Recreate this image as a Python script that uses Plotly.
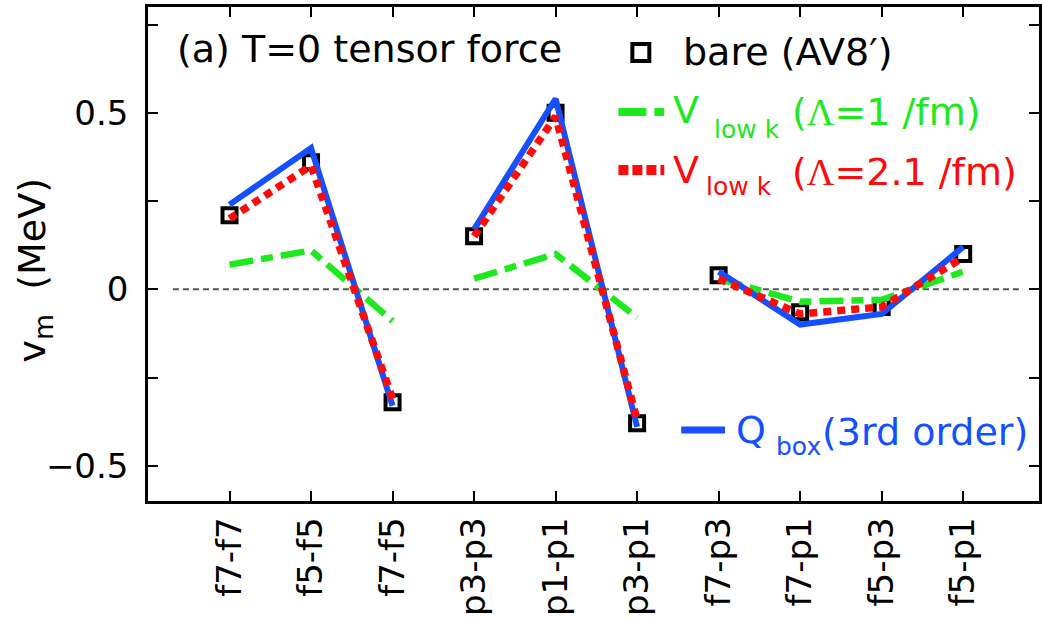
import plotly.graph_objects as go

# Matrix-element labels (orbit pairs) on the horizontal axis
categories = ["f7-f7", "f5-f5", "f7-f5", "p3-p3", "p1-p1", "p3-p1",
              "f7-p3", "f7-p1", "f5-p3", "f5-p1"]
# Lines are drawn separately inside each block of pairs
group_sizes = [3, 3, 4]

# T=0 tensor-force monopole matrix elements v_m (MeV)
bare_av8 = [0.21, 0.36, -0.32, 0.15, 0.50, -0.38, 0.04, -0.065, -0.05, 0.10]
vlowk_1 = [0.07, 0.11, -0.09, 0.03, 0.10, -0.08, 0.03, -0.035, -0.03, 0.05]
vlowk_21 = [0.20, 0.35, -0.31, 0.15, 0.49, -0.37, 0.03, -0.07, -0.05, 0.09]
qbox_3rd = [0.24, 0.40, -0.33, 0.17, 0.54, -0.39, 0.05, -0.10, -0.07, 0.12]

y_tick_vals = [-0.5, 0, 0.5]
y_tick_text = ["\u22120.5", "0", "0.5"]

GREEN = "#1ee81e"
RED = "#ff0a0a"
BLUE = "#1450ff"
FONT = "DejaVu Sans"

W, H = 1042, 620
L, R, T, B = 148, 1042, 7, 501


def px(x):
    return (x - L) / (R - L)


def py(y):
    return (B - y) / (B - T)


fig = go.Figure()

# bare interaction: open squares
fig.add_trace(go.Scatter(
    x=categories, y=bare_av8, mode="markers",
    marker=dict(symbol="square-open", size=14, color="black",
                line=dict(width=4, color="black")),
    showlegend=False, hoverinfo="x+y"))


def add_grouped(values, color, width, dash):
    start = 0
    for n in group_sizes:
        fig.add_trace(go.Scatter(
            x=categories[start:start + n], y=values[start:start + n],
            mode="lines", line=dict(color=color, width=width, dash=dash),
            showlegend=False, hoverinfo="x+y"))
        start += n


add_grouped(vlowk_1, GREEN, 6.5, "24px,8px,12px,8px")
add_grouped(qbox_3rd, BLUE, 6, "solid")
add_grouped(vlowk_21, RED, 7.5, "8px,6px")

shapes = [
    # zero reference line
    dict(type="line", xref="paper", yref="y", x0=px(173), x1=px(1026),
         y0=0, y1=0, line=dict(color="#555555", width=2, dash="6px,4px"),
         layer="below"),
    # key: bare
    dict(type="rect", xref="paper", yref="paper",
         x0=px(634), x1=px(651), y0=py(44), y1=py(61),
         line=dict(color="black", width=4)),
    # key: Vlowk 1/fm
    dict(type="line", xref="paper", yref="paper", x0=px(620), x1=px(666),
         y0=py(112), y1=py(112),
         line=dict(color=GREEN, width=8, dash="28px,8px,10px,8px")),
    # key: Vlowk 2.1/fm
    dict(type="line", xref="paper", yref="paper", x0=px(620), x1=px(666),
         y0=py(170), y1=py(170),
         line=dict(color=RED, width=10, dash="10px,4px")),
    # key: Qbox
    dict(type="line", xref="paper", yref="paper", x0=px(683), x1=px(727),
         y0=py(430), y1=py(430), line=dict(color=BLUE, width=7)),
]


def label(x, y, text, size, color="black", angle=0):
    return dict(xref="paper", yref="paper", x=px(x), y=py(y), text=text,
                showarrow=False, xanchor="left", yanchor="middle",
                font=dict(family=FONT, size=size, color=color),
                textangle=angle)


LAM = '<span style="font-family:Liberation Serif">\u039b</span>'

annotations = [
    label(175, 49, "(a) T=0 tensor force", 38),
    label(683, 52, "bare (AV8\u2032)", 38),
    label(673, 110, "V", 38, GREEN),
    label(714, 129, "low k", 25, GREEN),
    label(792, 112, "(" + LAM + "=1 /fm)", 38, GREEN),
    label(673, 170, "V", 38, RED),
    label(706, 186, "low k", 25, RED),
    label(792, 172, "(" + LAM + "=2.1 /fm)", 38, RED),
    label(736, 430, "Q", 38, BLUE),
    label(776, 446, "box", 25, BLUE),
    label(822, 432, "(3rd order)", 38, BLUE),
    dict(xref="paper", yref="paper", x=px(34), y=py(270),
         text="v<sub>m</sub>  (MeV)", showarrow=False,
         xanchor="center", yanchor="middle", textangle=-90,
         font=dict(family=FONT, size=38, color="black")),
]

fig.update_layout(
    width=W, height=H,
    margin=dict(l=L, r=W - R, t=T, b=H - B, pad=0),
    paper_bgcolor="white", plot_bgcolor="white",
    font=dict(family=FONT, color="black"),
    shapes=shapes, annotations=annotations,
    showlegend=False,
)

fig.update_xaxes(
    type="category", categoryorder="array", categoryarray=categories,
    range=[-1.0, 9.93], showgrid=False, zeroline=False,
    showline=True, linecolor="black", linewidth=2.5, mirror="ticks",
    ticks="inside", ticklen=10, tickwidth=2, tickcolor="black",
    tickangle=-90, tickfont=dict(family=FONT, size=34, color="black"),
)

fig.update_yaxes(
    range=[-0.6, 0.8], showgrid=False, zeroline=False,
    showline=True, linecolor="black", linewidth=2.5, mirror="ticks",
    tickmode="array", tickvals=y_tick_vals, ticktext=y_tick_text,
    ticks="inside", ticklen=10, tickwidth=2, tickcolor="black",
    ticklabelstandoff=10,
    tickfont=dict(family=FONT, size=34, color="black"),
    minor=dict(tickmode="linear", tick0=0, dtick=0.25, ticks="inside",
               ticklen=10, tickwidth=2, tickcolor="black"),
)

fig.write_html("out.html")
